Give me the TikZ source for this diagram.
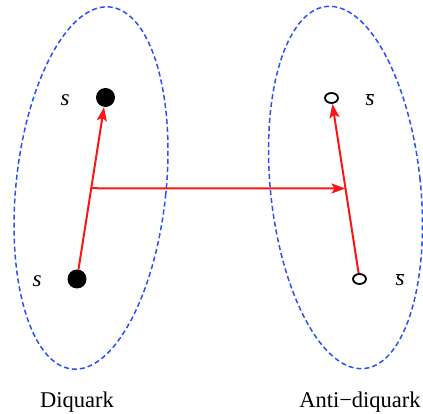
\documentclass[tikz,border=0pt]{standalone}
\usepackage{fontspec}
\setmainfont{Liberation Serif}
\usetikzlibrary{arrows.meta,shapes.geometric,calc}
\definecolor{ellblue}{RGB}{40,80,255}
\definecolor{arrred}{RGB}{255,20,20}
\tikzset{
  bag/.style={draw=ellblue,line width=1.5pt,dash pattern=on 5pt off 3pt},
  fdot/.style={circle,fill=black,inner sep=0pt,minimum size=19pt},
  odot/.style={ellipse,draw=black,line width=1.8pt,fill=white,inner sep=0pt,minimum width=13pt,minimum height=10pt},
  redarrow/.style={draw=arrred,line width=2pt,-{Stealth[length=14pt,width=10pt,inset=3pt]}},
  lab/.style={font=\fontsize{23}{25}\selectfont,anchor=base,inner sep=0pt},
  captext/.style={font=\fontsize{22.5}{25}\selectfont,anchor=base,inner sep=0pt}
}
\begin{document}
\begin{tikzpicture}[x=1pt,y=1pt]
\useasboundingbox (0,0) rectangle (423,414);
% bags
\draw[bag,rotate around={-6:(91,226)}] (91,226) ellipse [x radius=75, y radius=182];
\draw[bag,rotate around={6:(345.5,226.5)}] (345.5,226.5) ellipse [x radius=75, y radius=182];
% quarks
\node[fdot] (qa) at (105.5,316.5) {};
\node[fdot] (qb) at (77,135) {};
\node[odot] (aa) at (331.5,316) {};
\node[odot] (ab) at (359.5,135) {};
% labels
\node[lab] (la) at (65,308) {\textit{s}};
\node[lab] (lb) at (37,127) {\textit{s}};
\node[lab] (lc) at (370,308) {$\overline{\hbox{\textit{s}}}$};
\node[lab] (ld) at (400,128) {$\overline{\hbox{\textit{s}}}$};
% arrows
\coordinate (ml) at ($(qb)!0.5!(qa)$);
\coordinate (mr) at ($(ab)!0.5!(aa)$);
\draw[redarrow] (qb) -- (qa);
\draw[redarrow] (ab) -- (aa);
\draw[redarrow] (ml) -- (mr);
% captions
\node[captext] (c1) at (77,6) {Diquark};
\node[captext] (c2) at (360,6) {Anti−diquark};
\end{tikzpicture}
\end{document}
